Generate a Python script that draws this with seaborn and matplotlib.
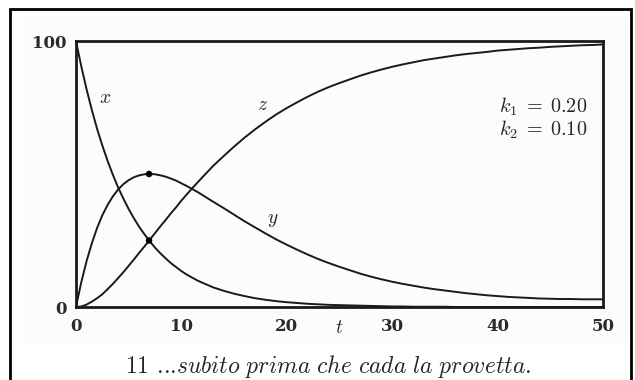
import pandas as pd
import matplotlib.pyplot as plt
import seaborn as sns
from matplotlib.patches import Rectangle

# values: half steps of t up to 12, then whole steps
t_vals = [0, 0.5, 1, 1.5, 2, 2.5, 3, 3.5, 4, 4.5, 5, 5.5, 6, 6.5, 7, 7.5,
          8, 8.5, 9, 9.5, 10, 10.5, 11, 11.5, 12] + list(range(13, 51))
x_vals = [100, 90.5, 81.9, 74.1, 67.0, 60.7, 54.9, 49.7, 44.9, 40.7,
          36.8, 33.3, 30.1, 27.3, 24.7, 22.3, 20.2, 18.3, 16.5, 15.0,
          13.5, 12.2, 11.1, 10.0, 9.1,
          7.4, 6.1, 5.0, 4.1, 3.3, 2.7, 2.2,
          1.8, 1.5, 1.2, 1.0, 0.8, 0.7, 0.6, 0.5, 0.4, 0.3,
          0.2, 0.2, 0.1, 0.1, 0.1, 0.1, 0.0, 0.0, 0.0, 0.0,
          0.0, 0.0, 0.0, 0.0, 0.0, 0.0, 0.0, 0.0, 0.0, 0.0, 0.0]
y_vals = [0, 9.3, 17.2, 23.9, 29.7, 34.5, 38.4, 41.6, 44.2, 46.2,
          47.7, 48.8, 49.5, 49.9, 50.0, 49.9, 49.5, 49.0, 48.3, 47.5,
          46.5, 45.5, 44.4, 43.3, 42.1,
          39.6, 37.2, 34.7, 32.2, 29.9, 27.6, 25.4,
          23.4, 21.5, 19.7, 18.0, 16.5, 15.1, 13.8, 12.5, 11.4, 10.4,
          9.5, 8.7, 8.0, 7.3, 6.7, 6.2, 5.7, 5.2, 4.8, 4.4,
          4.1, 3.8, 3.6, 3.4, 3.2, 3.1, 3.0, 3.0, 2.9, 2.9, 2.9]
z_vals = [0, 0.2, 0.9, 2.0, 3.3, 4.8, 6.7, 8.7, 10.9, 13.1,
          15.5, 17.9, 20.4, 22.8, 25.3, 27.8, 30.3, 32.7, 35.2, 37.5,
          40.0, 42.3, 44.5, 46.7, 48.8,
          53.0, 56.7, 60.3, 63.7, 66.8, 69.7, 72.4,
          74.8, 77.0, 79.1, 81.0, 82.7, 84.2, 85.6, 87.0, 88.2, 89.3,
          90.3, 91.2, 92.0, 92.8, 93.4, 94.0, 94.6, 95.1, 95.5, 95.9,
          96.4, 96.7, 97.0, 97.3, 97.5, 97.8, 98.0, 98.2, 98.4, 98.5, 98.7]

# marked points: maximum of y, and where x meets z
dot_t = [6.93, 6.93]
dot_v = [50, 25]

x_ticks = [0, 10, 20, 30, 40, 50]
y_minor = [20, 40, 60, 80]

n = len(t_vals)
df = pd.DataFrame({
    't': t_vals * 3,
    'value': x_vals + y_vals + z_vals,
    'series': ['x'] * n + ['y'] * n + ['z'] * n,
})

sns.set_theme(style="white")
plt.rcParams['mathtext.fontset'] = 'cm'
plt.rcParams['font.family'] = ['DejaVu Serif']

fig = plt.figure(figsize=(6.35, 3.8), dpi=100)
fig.patch.set_facecolor('white')
# faint grey scan background and the black frame of the page
fig.add_artist(Rectangle((23 / 635, 1 - 343 / 380), 605 / 635, 326 / 380,
                         transform=fig.transFigure, facecolor='#fcfcfc',
                         edgecolor='none', zorder=0))
fig.add_artist(Rectangle((9.5 / 635, -0.05), 621 / 635, 1.05 - 8.5 / 380,
                         transform=fig.transFigure, facecolor='none',
                         edgecolor='black', lw=2.0, zorder=5))

ax = fig.add_axes([76 / 635, 1 - 307 / 380, 527 / 635, 266 / 380])
ax.set_facecolor('none')

sns.lineplot(data=df, x='t', y='value', hue='series',
             palette=['#1a1a1a'] * 3, linewidth=1.4, legend=False, ax=ax)
sns.scatterplot(x=dot_t, y=dot_v, color='black', s=22, edgecolor='none',
                zorder=4, ax=ax)

ax.set_xlim(0, 50)
ax.set_ylim(0, 100)
ax.set_xlabel('')
ax.set_ylabel('')
for s in ax.spines.values():
    s.set_linewidth(2.0)
    s.set_color('#1a1a1a')

ax.set_xticks(x_ticks)
ax.set_xticklabels([str(v) for v in x_ticks], fontweight='bold', fontsize=12,
                   color='#2a2a2a')
ax.set_yticks([0, 100])
ax.set_yticklabels(['0', '100'], fontweight='bold', fontsize=12, color='#2a2a2a')
ax.set_yticks(y_minor, minor=True)
ax.tick_params(axis='both', which='both', direction='in', length=6, width=1.3,
               color='#1a1a1a')
ax.tick_params(axis='x', pad=8)
ax.tick_params(axis='y', pad=7, length=0)
ax.tick_params(axis='y', which='minor', length=6)

# curve labels
ax.text(2.8, 78.5, '$x$', fontsize=14, ha='center', va='center')
ax.text(18.7, 32.7, '$y$', fontsize=14, ha='center', va='center')
ax.text(17.7, 76, '$z$', fontsize=14, ha='center', va='center')
ax.text(48.5, 75.2, r'$k_1\;=\;\mathbf{0.20}$', fontsize=14.5, ha='right',
        va='center')
ax.text(48.5, 66.5, r'$k_2\;=\;\mathbf{0.10}$', fontsize=14.5, ha='right',
        va='center')
ax.text(25, -8, '$t$', fontsize=14, ha='center', va='center', clip_on=False)

fig.text(328 / 635, 1 - 366 / 380,
         r'11 ...$\mathit{subito\ prima\ che\ cada\ la\ provetta.}$',
         fontsize=17, ha='center', va='center', family='cmr10')

plt.savefig('out.png', dpi=100)
